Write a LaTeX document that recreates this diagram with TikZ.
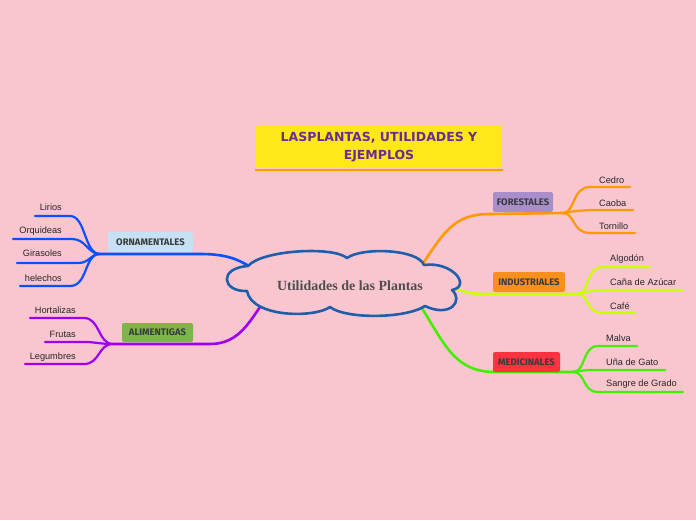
\documentclass[tikz,border=0pt]{standalone}
\usepackage{fontspec}
\setmainfont{Liberation Sans}
\newfontfamily\brfont{Fira Sans}
\newfontfamily\titlefont{DejaVu Sans}
\newfontfamily\centerfont{Liberation Serif}
\usetikzlibrary{calc}
\definecolor{bgpink}{HTML}{F9C6D0}
\definecolor{titleyellow}{HTML}{FFE817}
\definecolor{titlepurple}{HTML}{6A2C91}
\definecolor{lorange}{HTML}{FF9900}
\definecolor{lblue}{HTML}{0A50FF}
\definecolor{lpurple}{HTML}{A000F0}
\definecolor{lyellow}{HTML}{CCFF00}
\definecolor{lgreen}{HTML}{44EE00}
\definecolor{cloudblue}{HTML}{1F5FAA}
\definecolor{boxblue}{HTML}{C5E1F3}
\definecolor{boxgreen}{HTML}{7AB648}
\definecolor{boxlav}{HTML}{A88FCC}
\definecolor{boxorange}{HTML}{F7901E}
\definecolor{boxred}{HTML}{FF3340}
\definecolor{txtgray}{HTML}{3A3A3A}
\tikzset{
  branchbox/.style={rounded corners=2pt, inner sep=0pt, font=\brfont\bfseries\fontsize{9.5}{11}\selectfont, text=txtgray},
  mainline/.style={line width=2.6pt, line cap=round},
  childline/.style={line width=2.2pt, line cap=round},
  lefttxt/.style={anchor=east, inner sep=0pt, font=\fontsize{9.2}{11}\selectfont, text=black!85},
  righttxt/.style={anchor=west, inner sep=0pt, font=\fontsize{9.2}{11}\selectfont, text=black!85},
}
\begin{document}
\begin{tikzpicture}[x=1pt,y=-1pt]
\path[fill=bgpink] (0,0) rectangle (696,520);
\useasboundingbox (0,0) rectangle (696,520);

% title
\node[fill=titleyellow, rounded corners=2pt, minimum width=246pt, minimum height=42pt, inner sep=0pt,
  align=center, text=titlepurple, font=\titlefont\bfseries\fontsize{12.5}{18}\selectfont] (title) at (379,147)
  {LASPLANTAS, UTILIDADES Y\\EJEMPLOS};
\draw[lorange, line width=2.2pt] ($(title.south west)+(-1,2)$) coordinate (tl) -- ($(title.south east)+(1,2)$) coordinate (tr);

% branch coordinates
\coordinate (ornB) at (100,254);
\coordinate (aliB) at (113,344);
\coordinate (forB) at (563,213);
\coordinate (indB) at (577,294);
\coordinate (medB) at (573,372);

% main connectors
\draw[mainline, lblue] (ornB) -- (200,254) .. controls (226,254) and (238,259) .. (252,268);
\draw[mainline, lpurple] (aliB) -- (210,344) .. controls (240,344) and (250,320) .. (265,300);
\draw[mainline, lorange] (420,268) .. controls (445,230) and (455,214) .. (490,214) -- (forB);
\draw[mainline, lyellow] (452,287) .. controls (470,294) .. (495,294) -- (indB);
\draw[mainline, lgreen] (420,305) .. controls (445,345) and (455,372) .. (495,372) -- (medB);

% central cloud
\draw[cloudblue, line width=2.6pt, fill=bgpink, line join=round]
  (248,266) .. controls (262,250) and (333,246) .. (347,258)
  .. controls (362,247) and (418,249) .. (424,265)
  .. controls (452,261) and (472,286) .. (452,290)
  .. controls (464,301) and (450,318) .. (425,306)
  .. controls (405,319) and (345,319) .. (330,307)
  .. controls (315,318) and (252,318) .. (247,291)
  .. controls (222,292) and (218,268) .. (248,266) -- cycle;
\node[inner sep=0pt, font=\centerfont\bfseries\fontsize{14}{16}\selectfont, text=txtgray!90] (center) at (350,286) {Utilidades de las Plantas};

% branch boxes
\node[branchbox, fill=boxblue, minimum width=85pt, minimum height=20pt] (orn) at (150.5,242) {ORNAMENTALES};
\node[branchbox, fill=boxgreen, minimum width=71pt, minimum height=19pt] (ali) at (157.5,332.5) {ALIMENTIGAS};
\node[branchbox, fill=boxlav, minimum width=60pt, minimum height=20pt] (for) at (523,202) {FORESTALES};
\node[branchbox, fill=boxorange, minimum width=72pt, minimum height=20pt] (ind) at (529,282) {INDUSTRIALES};
\node[branchbox, fill=boxred, minimum width=67pt, minimum height=20pt] (med) at (526.5,362) {MEDICINALES};

% ORNAMENTALES children
\draw[childline, lblue] (ornB) .. controls (84,254) and (86,216) .. (70,216) -- (35,216) coordinate (c1);
\draw[childline, lblue] (ornB) .. controls (88,254) and (86,239) .. (72,239) -- (13,239) coordinate (c2);
\draw[childline, lblue] (ornB) .. controls (90,254) and (90,263) .. (78,263) -- (17,263) coordinate (c3);
\draw[childline, lblue] (ornB) .. controls (84,254) and (88,286) .. (70,286) -- (20,286) coordinate (c4);
\node[lefttxt] (lirios) at (62,207) {Lirios};
\node[lefttxt] (orquideas) at (62,231) {Orquideas};
\node[lefttxt] (girasoles) at (62,253.5) {Girasoles};
\node[lefttxt] (helechos) at (62,278) {helechos};

% ALIMENTIGAS children
\draw[childline, lpurple] (aliB) .. controls (98,344) and (100,318) .. (84,318) -- (30,318) coordinate (a1);
\draw[childline, lpurple] (aliB) .. controls (100,344) and (95,342) .. (85,342) -- (45,342) coordinate (a2);
\draw[childline, lpurple] (aliB) .. controls (98,344) and (100,364) .. (84,364) -- (25,364) coordinate (a3);
\node[lefttxt] (hortalizas) at (76,310.5) {Hortalizas};
\node[lefttxt] (frutas) at (76,334) {Frutas};
\node[lefttxt] (legumbres) at (76,357) {Legumbres};

% FORESTALES children
\draw[childline, lorange] (forB) .. controls (575,213) and (572,187) .. (590,187) -- (630,187) coordinate (f1);
\draw[childline, lorange] (forB) .. controls (575,211) .. (590,210) -- (633,210) coordinate (f2);
\draw[childline, lorange] (forB) .. controls (575,213) and (572,233) .. (590,233) -- (635,233) coordinate (f3);
\node[righttxt] (cedro) at (599,180) {Cedro};
\node[righttxt] (caoba) at (599,203) {Caoba};
\node[righttxt] (tornillo) at (599,226) {Tornillo};

% INDUSTRIALES children
\draw[childline, lyellow] (indB) .. controls (590,294) and (585,267) .. (603,267) -- (650,267) coordinate (i1);
\draw[childline, lyellow] (indB) .. controls (590,291) .. (605,290) -- (683,290) coordinate (i2);
\draw[childline, lyellow] (indB) .. controls (590,294) and (585,313) .. (603,313) -- (635,313) coordinate (i3);
\node[righttxt] (algodon) at (610,259) {Algodón};
\node[righttxt] (cana) at (610,282) {Caña de Azúcar};
\node[righttxt] (cafe) at (610,306) {Café};

% MEDICINALES children
\draw[childline, lgreen] (medB) .. controls (586,372) and (582,346) .. (598,346) -- (637,346) coordinate (m1);
\draw[childline, lgreen] (medB) .. controls (586,370) .. (600,370) -- (665,370) coordinate (m2);
\draw[childline, lgreen] (medB) .. controls (586,372) and (582,392) .. (598,392) -- (683,392) coordinate (m3);
\node[righttxt] (malva) at (606,338) {Malva};
\node[righttxt] (una) at (606,362) {Uña de Gato};
\node[righttxt] (sangre) at (606,384.5) {Sangre de Grado};
\end{tikzpicture}
\end{document}
